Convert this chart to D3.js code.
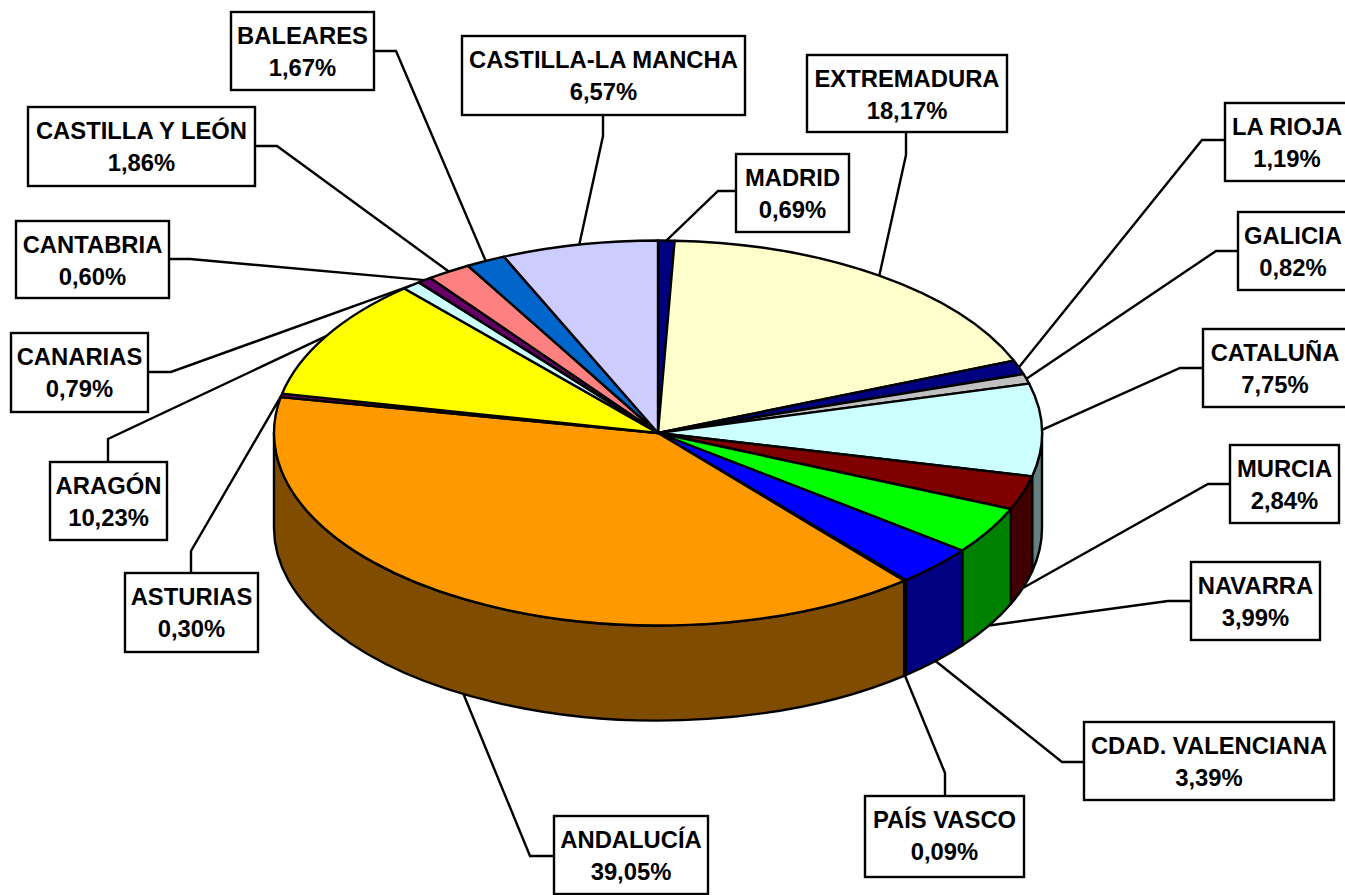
<!DOCTYPE html>
<html><head><meta charset="utf-8">
<script src="https://cdn.jsdelivr.net/npm/d3@7/dist/d3.min.js"></script>
<style>html,body{margin:0;padding:0;background:#fff;overflow:hidden}svg{display:block}
text{font-family:"Liberation Sans",Arial,sans-serif;font-weight:bold;font-size:23.8px;fill:#000;text-anchor:middle}</style>
</head><body><svg id="c" width="1345" height="895"></svg>
<script>
// Data, clockwise from the top of the pie
const regions = ["MADRID","EXTREMADURA","LA RIOJA","GALICIA","CATALUÑA","MURCIA","NAVARRA","CDAD. VALENCIANA","PAÍS VASCO","ANDALUCÍA","ASTURIAS","ARAGÓN","CANARIAS","CANTABRIA","CASTILLA Y LEÓN","BALEARES","CASTILLA-LA MANCHA"];
const shares = [0.69,18.17,1.19,0.82,7.75,2.84,3.99,3.39,0.09,39.05,0.30,10.23,0.79,0.60,1.86,1.67,6.57];
const topColours = ["#000080","#FFFFCC","#000080","#C0C0C0","#CCFFFF","#800000","#00FF00","#0000FF","#000080","#FF9900","#660066","#FFFF00","#CCFFFF","#660066","#FF8080","#0066CC","#CCCCFF"];
const sideColours = ["#000040","#808066","#000040","#606060","#668080","#400000","#008000","#000080","#000040","#804D00","#330033","#808000","#668080","#330033","#804040","#003366","#666680"];
// Label layout: box [left, top, right, bottom], attach side, elbow [x, y]
const boxes = [
 [736,154,849,232],[807,55,1007,132],[1225,103,1349,181],[1238,212,1348,290],[1203,329,1347,407],
 [1230,445,1339,523],[1191,562,1320,640],[1084,722,1334,800],[865,796,1024,877],[554,816,708,894],
 [125,573,258,652],[50,462,167,540],[11,333,148,412],[16,221,169,298],[28,107,255,186],[231,12,374,90],[462,36,745,115]];
const attach = ["left","bottom","left","left","left","left","left","left","top","left","top","top","right","right","right","right","bottom"];
const elbows = [[718,191],[906,155],[1202,140],[1216,251],[1180,368],[1208,484],[1168,601],[1062,762],[945,773],[530,856],[191,551],[108,439],[171,372],[190,259],[277,146],[396,51],[603,136]];

const cx=658, cy=433, rx=384, ry=192.5, depth=95, sw=2.4;
const x=d3.scaleLinear().domain([-1,1]).range([cx-rx,cx+rx]);
const y=d3.scaleLinear().domain([-1,1]).range([cy-ry,cy+ry]);
const px=a=>x(Math.sin(a)), py=a=>y(-Math.cos(a));
const arcs=d3.pie().sort(null).value(d=>d)(shares);
const svg=d3.select("#c");
const arcTo=(a0,a1,dy)=>{const large=Math.abs(a1-a0)>Math.PI?1:0, sweep=a1>a0?1:0;
  return `A${rx} ${ry} 0 ${large} ${sweep} ${px(a1)} ${py(a1)+dy}`;};

// leader lines first so the pie rim sits over their ends
const lines=svg.append("g").attr("fill","none").attr("stroke","#000").attr("stroke-width",sw);
arcs.forEach((d,i)=>{
  const m=(d.startAngle+d.endAngle)/2, front=Math.cos(m)<0;
  const ex=px(m), ey=py(m)+(front?depth:0);
  const b=boxes[i], e=elbows[i];
  const anchor=attach[i]==="left"?[b[0],e[1]]:attach[i]==="right"?[b[2],e[1]]:attach[i]==="top"?[e[0],b[1]]:[e[0],b[3]];
  lines.append("path").attr("d",d3.line()([anchor,e,[ex,ey]]));
});

// side wall: only the front half of the rim
const wallLo=Math.PI/2, wallHi=3*Math.PI/2;
const pie=svg.append("g").attr("stroke","#000").attr("stroke-width",sw).attr("stroke-linejoin","round");
arcs.forEach((d,i)=>{
  const a0=Math.max(d.startAngle,wallLo), a1=Math.min(d.endAngle,wallHi);
  if(a1<=a0) return;
  pie.append("path").attr("fill",sideColours[i])
    .attr("d",`M${px(a0)} ${py(a0)}${arcTo(a0,a1,0)}L${px(a1)} ${py(a1)+depth}${arcTo(a1,a0,depth)}Z`);
});
// top face
arcs.forEach((d,i)=>{
  pie.append("path").attr("fill",topColours[i])
    .attr("d",`M${cx} ${cy}L${px(d.startAngle)} ${py(d.startAngle)}${arcTo(d.startAngle,d.endAngle,0)}Z`);
});

// labels
const lab=svg.append("g");
regions.forEach((r,i)=>{
  const b=boxes[i], mx=(b[0]+b[2])/2;
  lab.append("rect").attr("x",b[0]).attr("y",b[1]).attr("width",b[2]-b[0]).attr("height",b[3]-b[1])
    .attr("fill","#fff").attr("stroke","#000").attr("stroke-width",sw);
  lab.append("text").attr("x",mx).attr("y",b[1]+31.5).text(r);
  lab.append("text").attr("x",mx).attr("y",b[1]+63.5).text(shares[i].toFixed(2).replace(".",",")+"%");
});
</script></body></html>
